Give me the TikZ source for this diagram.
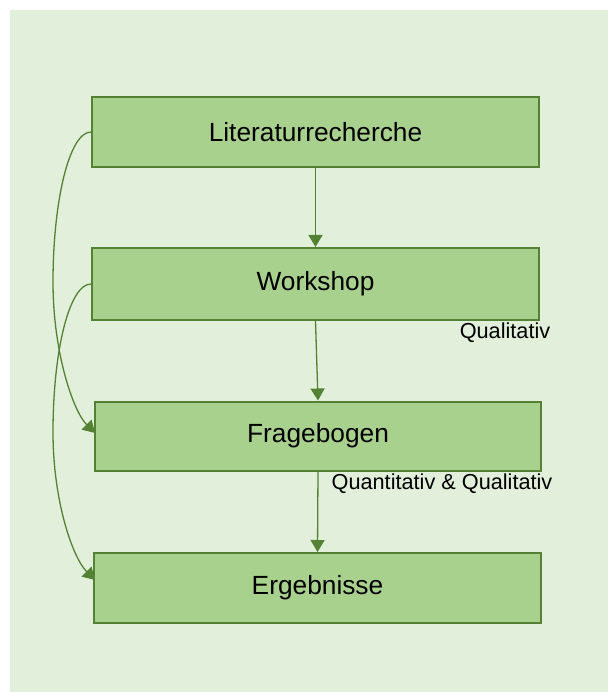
\documentclass[tikz,border=0pt]{standalone}
\usepackage{fontspec}
\setmainfont{Liberation Sans}
\usetikzlibrary{arrows.meta}
\definecolor{bggreen}{HTML}{E2EFDA}
\definecolor{boxfill}{HTML}{A9D18E}
\definecolor{boxline}{HTML}{548235}
\tikzset{
  stepbox/.style={draw=boxline, fill=boxfill, line width=2pt, rectangle,
    minimum width=447pt, minimum height=70pt, inner sep=0pt,
    font=\fontsize{26.3}{30}\selectfont, text=black},
  conn/.style={draw=boxline, line width=1.3pt,
    -{Triangle[length=12pt,width=14pt]}},
  lbl/.style={font=\fontsize{21.7}{25}\selectfont, text=black, inner sep=0pt}
}
\begin{document}
\begin{tikzpicture}[x=1pt,y=-1pt]
\useasboundingbox (0,0) rectangle (608,692);
\fill[bggreen] (10,10) rectangle (608,692);
\node[stepbox] (lit) at (315.5,132) {Literaturrecherche};
\node[stepbox, minimum height=72pt] (work) at (315.5,284) {Workshop};
\node[stepbox, minimum width=446pt, minimum height=69pt] (frage) at (318,436) {Fragebogen};
\node[stepbox] (erg) at (317.5,588) {Ergebnisse};
\node[lbl] (q1) at (505,333) {Qualitativ};
\node[lbl] (q2) at (442,484) {Quantitativ \& Qualitativ};
\draw[conn] (lit.south) -- (work.north);
\draw[conn] (work.south) -- (frage.north);
\draw[conn] (frage.south) -- (erg.north);
\coordinate (m1) at (53,282);
\coordinate (m2) at (53,432);
\coordinate (e1) at (95,433);
\coordinate (e2) at (95,580);
\draw[conn] (lit.west) .. controls +(-22,0) and +(0,-80) .. (m1)
  .. controls +(0,70) and +(-22,-22) .. (e1);
\draw[conn] (work.west) .. controls +(-22,0) and +(0,-80) .. (m2)
  .. controls +(0,70) and +(-22,-22) .. (e2);
\end{tikzpicture}
\end{document}
